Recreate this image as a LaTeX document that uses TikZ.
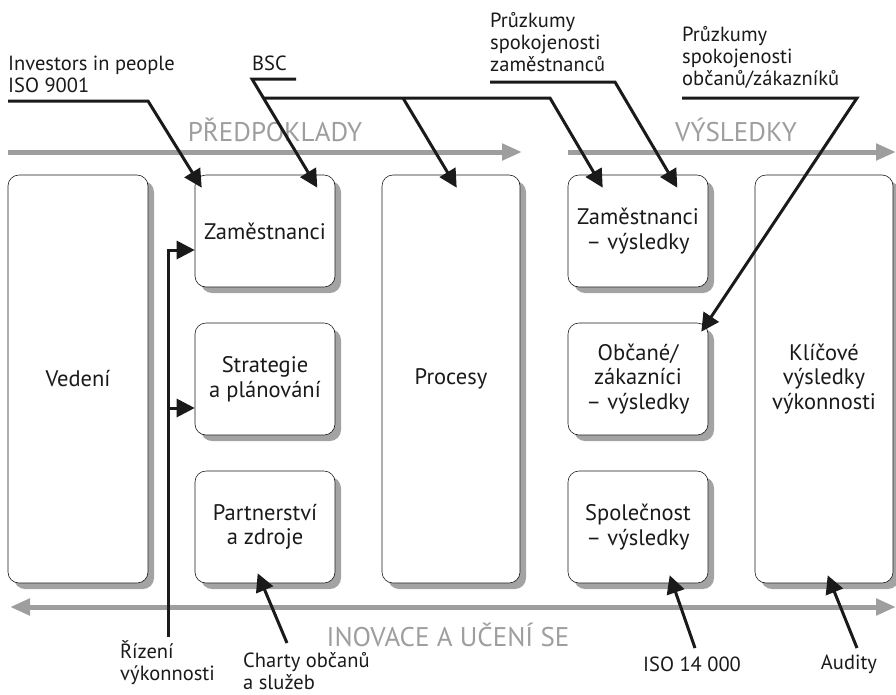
\documentclass[tikz,border=0pt]{standalone}
\usepackage{fontspec}
\setmainfont{PT Sans}
\usetikzlibrary{arrows.meta, positioning, calc, shadows}
\definecolor{Ink}{HTML}{1A1A1A}
\definecolor{FlowGray}{HTML}{9E9E9E}
\definecolor{ShadeGray}{HTML}{A3A3A3}
\tikzset{
  area/.style={draw=Ink, semithick, fill=white, rounded corners=11pt,
               align=center, minimum width=140pt, inner sep=0pt,
               font=\fontsize{22.5}{24.5}\selectfont, text=Ink,
               drop shadow={shadow xshift=6pt, shadow yshift=-6pt,
                            fill=ShadeGray, opacity=1}},
  smallarea/.style={area, minimum height=112pt},
  tallarea/.style={area, minimum height=408pt},
  tool/.style={font=\fontsize{20.5}{22}\selectfont, text=Ink, align=left,
               inner sep=0pt},
  flowlab/.style={font=\fontsize{27}{30}\selectfont, text=FlowGray},
  flowarrow/.style={draw=FlowGray, line width=5pt,
                    -{Triangle[length=20pt, width=16pt]}},
  callout/.style={draw=Ink, line width=3pt,
                  -{Triangle[length=18pt, width=18pt]}},
}

\begin{document}
\begin{tikzpicture}[x=1pt, y=-1pt]
    \useasboundingbox (0,0) rectangle (896,694);

    % the nine criteria
    \node[tallarea] (vedeni) at (78,379) {Vedení};
    \node[smallarea] (zam) at (265,231) {Zaměstnanci};
    \node[smallarea] (strat) at (265,379) {Strategie\\ a plánování};
    \node[smallarea] (partner) at (265,527) {Partnerství\\ a zdroje};
    \node[tallarea, minimum width=138pt] (procesy) at (451,379) {Procesy};
    \node[smallarea] (zamvys) at (638,231) {Zaměstnanci\\ – výsledky};
    \node[smallarea] (obcane) at (638,379) {Občané/\\ zákazníci\\ – výsledky};
    \node[smallarea] (spol) at (638,527) {Společnost\\ – výsledky};
    \node[tallarea, minimum width=138pt] (klicove) at (824,379)
      {Klíčové\\ výsledky\\ výkonnosti};

    % grey flow arrows
    \coordinate (preA) at (8,152);
    \coordinate (preB) at (522,152);
    \draw[flowarrow] (preA) -- (preB);
    \node[flowlab] (pred) at (275,130) {PŘEDPOKLADY};
    \coordinate (vysA) at (568,152);
    \coordinate (vysB) at (896,152);
    \draw[flowarrow] (vysA) -- (vysB);
    \node[flowlab] (vys) at (736,130) {VÝSLEDKY};
    \coordinate (inoA) at (10,607);
    \coordinate (inoB) at (896,607);
    \draw[flowarrow, {Triangle[length=20pt, width=16pt]}-{Triangle[length=20pt, width=16pt]}]
      (inoA) -- (inoB);
    \node[flowlab] (ino) at (448,635) {INOVACE A UČENÍ SE};

    % tools on top
    \node[tool, anchor=north west] (inv) at (8,56) {Investors in people\\ ISO 9001};
    \coordinate (invA) at (8,101);
    \coordinate (invB) at (148,101);
    \draw[callout] (invA) -- (invB) -- ($(zam.north west)+(7,13)$);

    \node[tool, anchor=north west] (bsc) at (252,56) {BSC};
    \coordinate (bscA) at (296,79);
    \coordinate (bscB) at (252,79);
    \draw[callout] (bscA) -- (bscB) -- ($(zam.north east)+(-18,13)$);
    \coordinate (bscC) at (264,98);
    \coordinate (bscD) at (403,98);
    \coordinate (bscE) at (550,98);
    \draw[callout] (bscC) -- (bscE) -- ($(zamvys.north west)+(35,13)$);
    \draw[callout] (bscD) -- ($(procesy.north west)+(75,13)$);

    \node[tool, anchor=north west] (pzam) at (490,12)
      {Průzkumy\\ spokojenosti\\ zaměstnanců};
    \coordinate (pzamA) at (490,82);
    \coordinate (pzamB) at (615,82);
    \draw[callout] (pzamA) -- (pzamB) -- ($(zamvys.north east)+(-31,13)$);

    \node[tool, anchor=north west] (pobc) at (682,26)
      {Průzkumy\\ spokojenosti\\ občanů/zákazníků};
    \coordinate (pobcA) at (682,98);
    \coordinate (pobcB) at (857,98);
    \draw[callout] (pobcA) -- (pobcB) -- ($(obcane.north east)+(-7,9)$);

    % tools below
    \node[tool, anchor=north west] (rizeni) at (120,640) {Řízení\\ výkonnosti};
    \coordinate (rizA) at (168,637);
    \coordinate (rizZam) at ($(zam.west)+(0,19)$);
    \coordinate (rizStrat) at ($(strat.west)+(0,29)$);
    \draw[callout] (rizA) |- (rizZam);
    \draw[callout] (rizA |- rizStrat) -- (rizStrat);

    \node[tool, anchor=north west] (charty) at (243,652) {Charty občanů\\ a služeb};
    \coordinate (chA) at (287,643);
    \draw[callout] (chA) -- ($(partner.south west)+(63,-10)$);

    \node[tool] (iso) at (692,664) {ISO 14 000};
    \coordinate (isoA) at (695,648);
    \draw[callout] (isoA) -- ($(spol.south west)+(102,-8)$);

    \node[tool] (audity) at (849,664) {Audity};
    \coordinate (audA) at (857,648);
    \draw[callout] (audA) -- ($(klicove.south west)+(73,-8)$);
\end{tikzpicture}
\end{document}
